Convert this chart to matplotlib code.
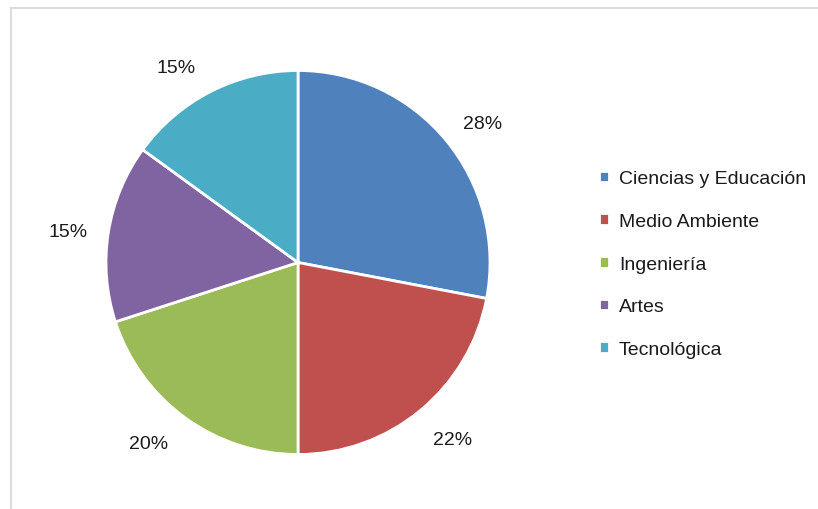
import numpy as np
import matplotlib.pyplot as plt
from matplotlib.lines import Line2D

categorias = ['Ciencias y Educación', 'Medio Ambiente', 'Ingeniería', 'Artes', 'Tecnológica']
porcentajes = [28, 22, 20, 15, 15]
colores = ['#4F81BD', '#C0504D', '#9BBB59', '#8064A2', '#4BACC6']

plt.rcParams['font.family'] = ['Liberation Sans', 'DejaVu Sans']

W, H = 818, 510
fig = plt.figure(figsize=(W / 100, H / 100), dpi=100)

# marco gris (solo arriba e izquierda)
fig.add_artist(Line2D([10.5 / W, 1], [1 - 9 / H, 1 - 9 / H], color='#d9d9d9', lw=1.3))
fig.add_artist(Line2D([10.5 / W, 10.5 / W], [0, 1 - 9 / H], color='#d9d9d9', lw=1.3))

# pastel centrado en (298, 263.5) con radio 192 px
cx, cy, r = 298, 263.5, 192
ax = fig.add_axes([(cx - r) / W, (H - cy - r) / H, 2 * r / W, 2 * r / H])
wedges, _ = ax.pie(porcentajes, colors=colores, startangle=90, counterclock=False,
                   wedgeprops=dict(edgecolor='white', linewidth=2))

# etiquetas de porcentaje un poco fuera del borde, con leve ajuste de ángulo
ajuste = [-2, 2, -4, 0.7, 4.8]
for w, p, da in zip(wedges, porcentajes, ajuste):
    ang = np.deg2rad((w.theta1 + w.theta2) / 2 + da)
    ax.text(1.21 * np.cos(ang), 1.21 * np.sin(ang) - 0.015, f'{p}%', ha='center', va='center',
            fontsize=14, color='#1a1a1a')
ax.set_xlim(-1, 1)
ax.set_ylim(-1, 1)
ax.set_aspect('equal')
ax.axis('off')

leg = fig.legend(wedges, categorias, loc='upper left', bbox_to_anchor=(581 / W, 1 - 154 / H),
                 frameon=False, fontsize=14, handlelength=0.55, handleheight=0.55,
                 handletextpad=0.5, labelspacing=1.32)
for t in leg.get_texts():
    t.set_color('#1a1a1a')

fig.savefig('out.png', dpi=100)
